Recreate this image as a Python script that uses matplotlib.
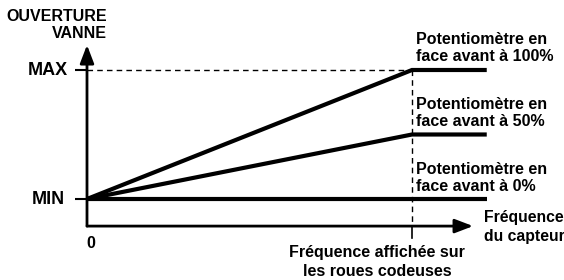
import matplotlib
matplotlib.use("Agg")
import matplotlib.pyplot as plt
from matplotlib import font_manager

# Data (normalized: MIN=0, MAX=1, displayed frequency = 1)
freq = [0.0, 1.0, 1.23]
pot_100 = [0.0, 1.0, 1.0]
pot_50 = [0.0, 0.5, 0.5]
pot_0 = [0.0, 0.0, 0.0]
series = [pot_100, pot_50, pot_0]
labels = ["Potentiomètre en\nface avant à 100%",
          "Potentiomètre en\nface avant à 50%",
          "Potentiomètre en\nface avant à 0%"]
ytick_labels = ["MIN", "MAX"]

bold_path = None
for f in font_manager.fontManager.ttflist:
    if f.name == 'Liberation Sans' and f.weight in (700, 'bold') and f.style == 'normal':
        bold_path = f.fname
        break
if bold_path:
    fp = lambda size: font_manager.FontProperties(fname=bold_path, size=size)
else:
    fp = lambda size: font_manager.FontProperties(family='Liberation Sans', weight='bold', size=size)

fig = plt.figure(figsize=(5.64, 2.80), dpi=100)
ax = fig.add_axes([0, 0, 1, 1])
ax.set_xlim(-87 / 325, (564 - 87) / 325)
ax.set_ylim((199 - 280) / 129, 199 / 129)
ax.axis('off')

y_axis_base = -0.21
x_tip = 1.188
y_tip = 1.194

arrow = dict(arrowstyle='-|>,head_length=1.1,head_width=0.42', lw=2,
             color='black', shrinkA=0, shrinkB=0)
ax.annotate('', xy=(x_tip, y_axis_base), xytext=(0, y_axis_base), arrowprops=arrow)
ax.annotate('', xy=(0, y_tip), xytext=(0, y_axis_base), arrowprops=arrow)

for yv in [0.0, 1.0]:
    ax.plot([-12 / 325, 0], [yv, yv], color='black', lw=1.5, solid_capstyle='butt')
ax.text(-19 / 325, 1.0, ytick_labels[1], ha='right', va='center', fontproperties=fp(13))
ax.text(-22 / 325, 0.0, ytick_labels[0], ha='right', va='center', fontproperties=fp(13))

ax.plot([0, 1.0], [1.0, 1.0], color='black', lw=1, ls=(0, (4, 3)))
ax.plot([1.0, 1.0], [1.0, y_axis_base], color='black', lw=1, ls=(0, (4, 3)))
ax.plot([1.0, 1.0], [y_axis_base, y_axis_base - 12 / 129], color='black', lw=1.2)

for s in series:
    ax.plot(freq, s, color='black', lw=3, solid_capstyle='butt', solid_joinstyle='miter')

label_y = [(199 - 48) / 129, (199 - 113) / 129, (199 - 178) / 129]
for lab, yv in zip(labels, label_y):
    ax.text(1.013, yv, lab, ha='left', va='center', fontproperties=fp(11.5), linespacing=1.1)

ax.text(107 / 325 - 87 / 325, (199 - 25) / 129, "OUVERTURE\nVANNE", ha='right', va='center',
        fontproperties=fp(11.5), linespacing=1.2)
ax.text((484 - 87) / 325, (199 - 227) / 129, "Fréquence\ndu capteur", ha='left', va='center',
        fontproperties=fp(11.3), linespacing=1.28)
ax.text((377 - 87) / 325, (199 - 262) / 129, "Fréquence affichée sur\nles roues codeuses", ha='center', va='center',
        fontproperties=fp(11.5), linespacing=1.3)
ax.text(3.5 / 325, (199 - 243) / 129, "0", ha='center', va='center', fontproperties=fp(11.5))

fig.savefig("out.png", dpi=100, facecolor='white')
